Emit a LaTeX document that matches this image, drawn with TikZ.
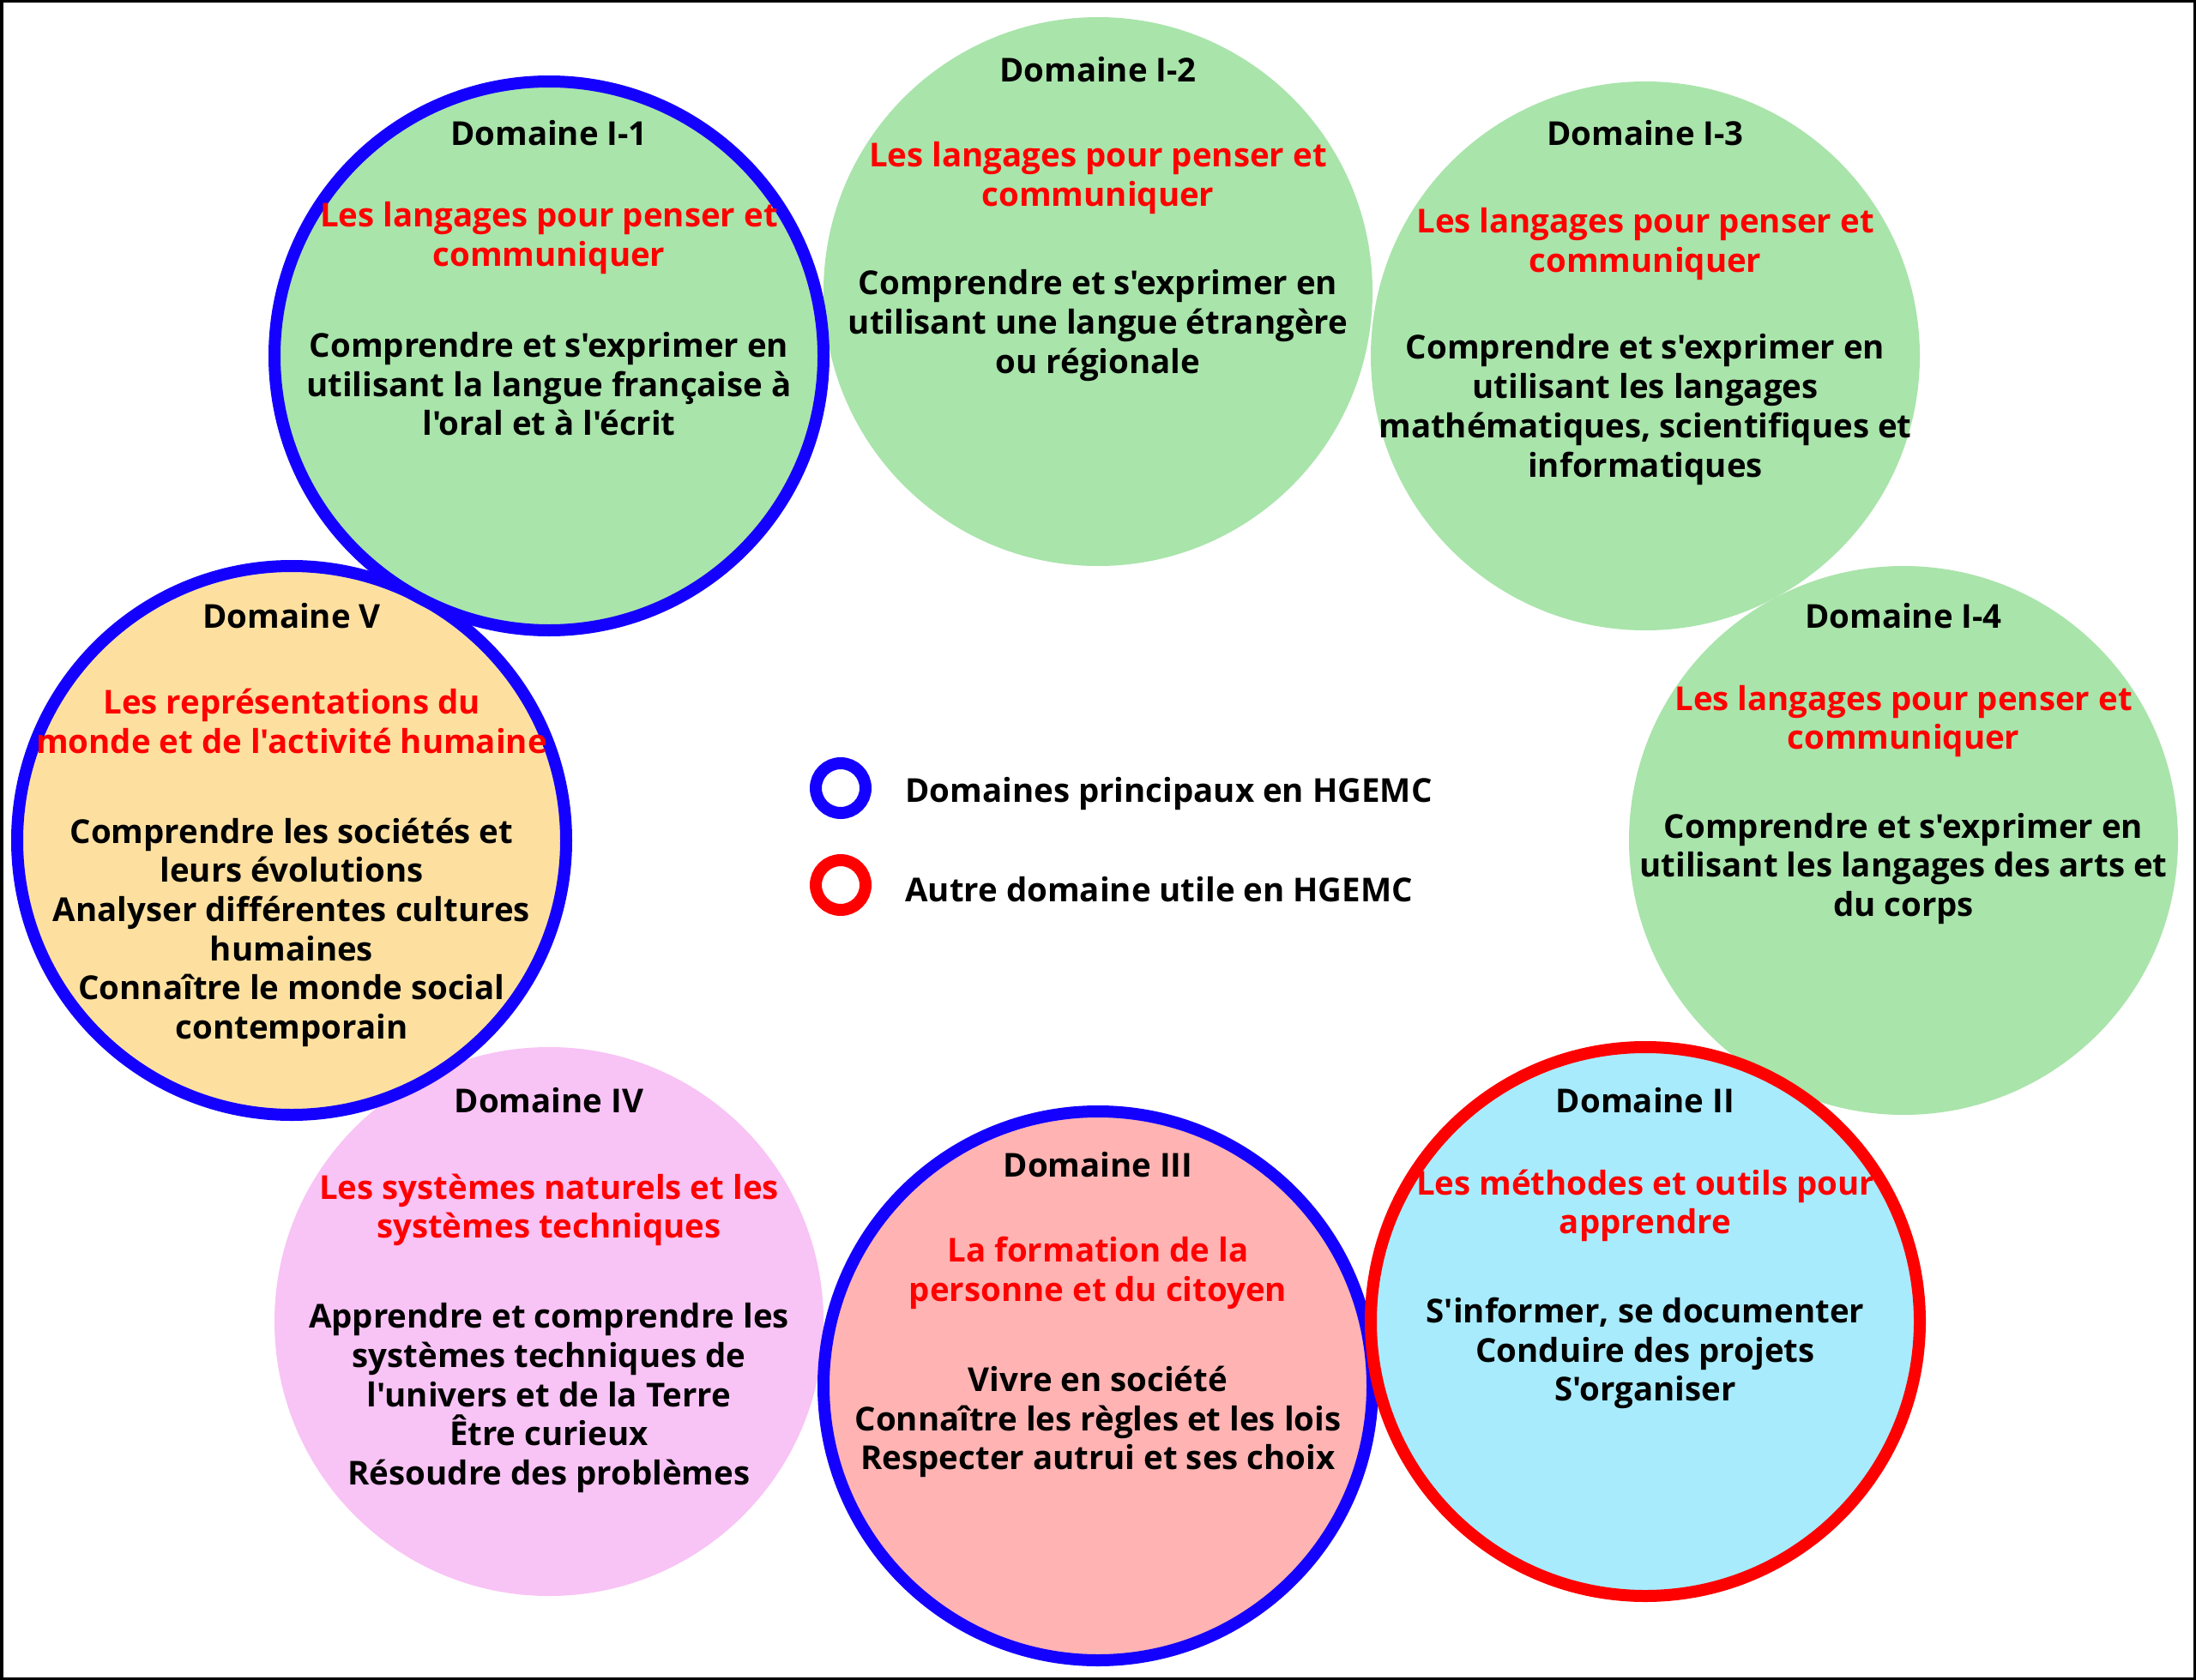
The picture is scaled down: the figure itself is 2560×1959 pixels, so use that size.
\documentclass[tikz,border=0pt]{standalone}
\usepackage{fontspec}
\setmainfont{Open Sans}[Ligatures=TeXOff]
\definecolor{cgreen}{RGB}{169,228,171}
\definecolor{corange}{RGB}{253,224,160}
\definecolor{cpink}{RGB}{248,195,245}
\definecolor{csalmon}{RGB}{255,179,179}
\definecolor{ccyan}{RGB}{168,235,253}
\definecolor{cblue}{RGB}{20,0,255}
\definecolor{cred}{RGB}{255,0,0}
\tikzset{
  dom/.style={circle, minimum size=320pt, inner sep=0pt, outer sep=0pt},
  princ/.style={draw=cblue, line width=7pt},
  autre/.style={draw=cred, line width=7pt},
  txt/.style={align=center, inner sep=0pt, font=\bfseries\fontsize{19.2}{22.85}\selectfont},
  hd/.style={txt, text=black},
  sub/.style={txt, text=cred, yshift=-2.5pt},
  body/.style={txt, text=black, yshift=-2pt},
  ring/.style={circle, minimum size=29pt, inner sep=0pt, line width=7pt},
  legtxt/.style={anchor=west, inner sep=0pt, font=\bfseries\fontsize{19.2}{22.85}\selectfont}
}
\begin{document}
\begin{tikzpicture}[x=0.5pt,y=-0.5pt]
\useasboundingbox (0,0) rectangle (2560,1959);
\fill[white] (0,0) rectangle (2560,1959);
% circles (drawing order matters)
\node[dom, fill=cgreen] (c12) at (1280,340) {};
\node[dom, fill=cgreen] (c13) at (1918,415) {};
\node[dom, fill=cgreen] (c14) at (2219,980) {};
\node[dom, fill=cpink] (c4) at (640,1541) {};
\node[dom, fill=corange, princ] (c5) at (340,980) {};
\node[dom, fill=cgreen, princ] (c11) at (640,415) {};
\node[dom, fill=csalmon, princ] (c3) at (1280,1616) {};
\node[dom, fill=ccyan, autre] (c2) at (1918,1541) {};
% Domaine I-1
\node[hd] (h11) at (640,155) {Domaine I-1};
\node[sub] (s11) at (640,272.7) {Les langages pour penser et\\communiquer};
\node[body] (b11) at (640,443.7) {Comprendre et s'exprimer en\\utilisant la langue française à\\l'oral et à l'écrit};
% Domaine I-2
\node[hd] (h12) at (1280,81.6) {Domaine I-2};
\node[sub] (s12) at (1280,202.5) {Les langages pour penser et\\communiquer};
\node[body] (b12) at (1280,375.5) {Comprendre et s'exprimer en\\utilisant une langue étrangère\\ou régionale};
% Domaine I-3
\node[hd] (h13) at (1918,155) {Domaine I-3};
\node[sub] (s13) at (1918,279.2) {Les langages pour penser et\\communiquer};
\node[body] (b13) at (1918,473.5) {Comprendre et s'exprimer en\\utilisant les langages\\mathématiques, scientifiques et\\informatiques};
% Domaine I-4
\node[hd] (h14) at (2219,718.4) {Domaine I-4};
\node[sub] (s14) at (2219,836) {Les langages pour penser et\\communiquer};
\node[body] (b14) at (2219,1009) {Comprendre et s'exprimer en\\utilisant les langages des arts et\\du corps};
% Domaine II
\node[hd] (h2) at (1918,1283.3) {Domaine II};
\node[sub] (s2) at (1918,1400.9) {Les méthodes et outils pour\\apprendre};
\node[body] (b2) at (1918,1574) {S'informer, se documenter\\Conduire des projets\\S'organiser};
% Domaine III
\node[hd] (h3) at (1280,1358.4) {Domaine III};
\node[sub] (s3) at (1280,1479.2) {La formation de la\\personne et du citoyen};
\node[body] (b3) at (1280,1654) {Vivre en société\\Connaître les règles et les lois\\Respecter autrui et ses choix};
% Domaine IV
\node[hd] (h4) at (640,1283.3) {Domaine IV};
\node[sub] (s4) at (640,1405.8) {Les systèmes naturels et les\\systèmes techniques};
\node[body] (b4) at (640,1626.2) {Apprendre et comprendre les\\systèmes techniques de\\l'univers et de la Terre\\Être curieux\\Résoudre des problèmes};
% Domaine V
\node[hd] (h5) at (340,718.4) {Domaine V};
\node[sub] (s5) at (340,836) {Les représentations du\\monde et de l'activité humaine};
\node[body] (b5) at (340,1083.3) {Comprendre les sociétés et\\leurs évolutions\\Analyser différentes cultures\\humaines\\Connaître le monde social\\contemporain};
% legend
\node[ring, draw=cblue] (lg1) at (980,919) {};
\node[ring, draw=cred] (lg2) at (980,1032) {};
\node[legtxt] (lt1) at (1055,926) {Domaines principaux en HGEMC};
\node[legtxt] (lt2) at (1055,1037) {Autre domaine utile en HGEMC};
% frame
\draw[line width=1.75pt, black] (1.75,1.75) rectangle (2558.25,1957.25);
\end{tikzpicture}
\end{document}
